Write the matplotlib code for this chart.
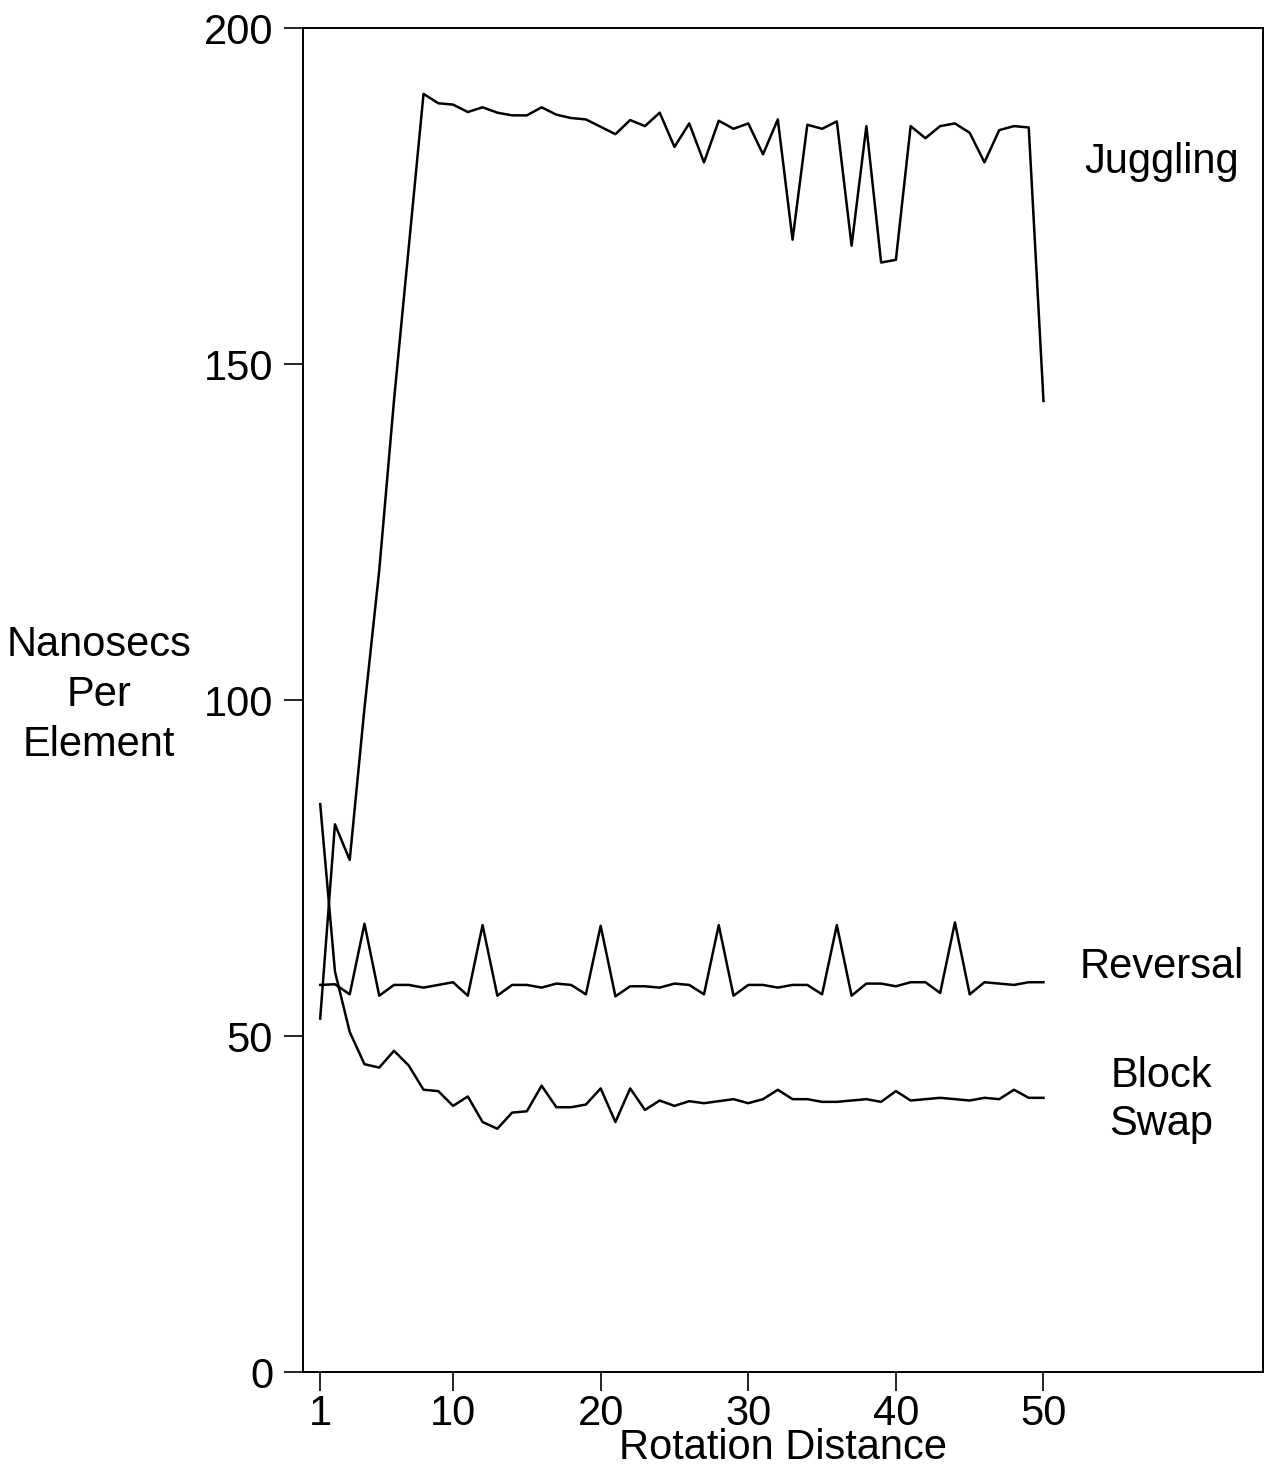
import matplotlib.pyplot as plt
import numpy as np

plt.rcParams['font.family'] = ['Liberation Sans', 'DejaVu Sans']

# Rotation distance 1..50
distance = np.arange(1, 51)

# Nanosecs per element
juggling = [52.6, 81.5, 76.2, 98.8, 119.3, 144.6, 167.4, 190.2, 188.8, 188.6,
            187.5, 188.2, 187.4, 187.0, 187.0, 188.2, 187.1, 186.6, 186.4, 185.3,
            184.2, 186.3, 185.4, 187.4, 182.3, 185.8, 180.0, 186.2, 185.0, 185.8,
            181.2, 186.4, 168.5, 185.6, 185.0, 186.1, 167.6, 185.4, 165.1, 165.5,
            185.4, 183.6, 185.4, 185.8, 184.4, 180.0, 184.8, 185.4, 185.2, 144.5]

reversal = [57.6, 57.7, 56.2, 66.7, 56.0, 57.6, 57.6, 57.2, 57.6, 58.0,
            56.0, 66.5, 56.0, 57.6, 57.6, 57.2, 57.8, 57.6, 56.2, 66.4,
            55.9, 57.4, 57.4, 57.2, 57.8, 57.6, 56.2, 66.5, 56.0, 57.6,
            57.6, 57.2, 57.6, 57.6, 56.2, 66.5, 56.0, 57.8, 57.8, 57.4,
            58.0, 58.0, 56.4, 66.9, 56.2, 58.0, 57.8, 57.6, 58.0, 58.0]

block_swap = [84.5, 59.6, 50.6, 45.8, 45.3, 47.8, 45.6, 42.0, 41.8, 39.6,
              41.0, 37.2, 36.2, 38.6, 38.8, 42.6, 39.4, 39.4, 39.8, 42.2,
              37.2, 42.2, 39.0, 40.4, 39.6, 40.3, 40.0, 40.3, 40.6, 40.0,
              40.6, 42.0, 40.6, 40.6, 40.2, 40.2, 40.4, 40.6, 40.2, 41.8,
              40.4, 40.6, 40.8, 40.6, 40.4, 40.8, 40.6, 42.0, 40.8, 40.8]

xticks = [1, 10, 20, 30, 40, 50]
yticks = [0, 50, 100, 150, 200]

W, H = 1265, 1467
fig = plt.figure(figsize=(W / 100, H / 100), dpi=100)
ax = fig.add_axes([303 / W, (H - 1372) / H, (1263 - 303) / W, (1372 - 28) / H])

for series in (juggling, reversal, block_swap):
    ax.plot(distance, series, color='black', lw=1.8)

ax.set_xlim(-0.165, 64.87)
ax.set_ylim(0, 200)
ax.set_xticks(xticks)
ax.set_yticks(yticks)
ax.tick_params(direction='out', length=13.5, width=1.2, labelsize=30, color='black')
ax.tick_params(axis='y', pad=8)
ax.tick_params(axis='x', pad=2)
for s in ax.spines.values():
    s.set_linewidth(1.4)

ax.set_xlabel('Rotation Distance', fontsize=30, labelpad=-4)

# series names next to the lines
ax.text(58, 178.4, 'Juggling', fontsize=30, ha='center', va='baseline')
ax.text(58, 58.6, 'Reversal', fontsize=30, ha='center', va='baseline')
ax.text(58, 40.5, 'Block\nSwap', fontsize=30, ha='center', va='center',
        multialignment='center', linespacing=1.25)

fig.text(99 / W, 1 - 695 / H, 'Nanosecs\nPer\nElement', fontsize=30,
         ha='center', va='center', multialignment='center', linespacing=1.32)

fig.savefig('out.png', dpi=100)
